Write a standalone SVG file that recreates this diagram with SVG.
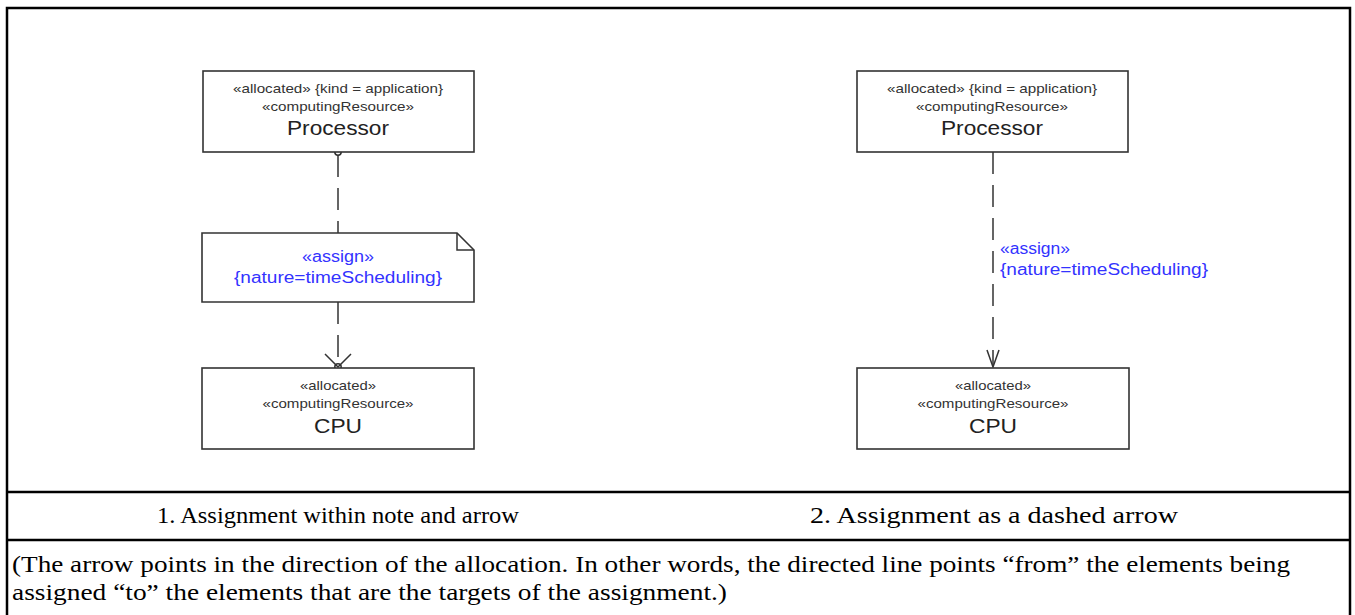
<svg xmlns="http://www.w3.org/2000/svg" width="1355" height="615" viewBox="0 0 1355 615">
<style>
.frame{fill:none;stroke:#000;stroke-width:2.5}
.box{fill:#fff;stroke:#333;stroke-width:1.6}
.st{font-family:"Liberation Sans",Arial,sans-serif;font-size:13.5px;fill:#333;text-anchor:middle}
.nm{font-family:"Liberation Sans",Arial,sans-serif;font-size:20px;fill:#222;text-anchor:middle}
.bl{font-family:"Liberation Sans",Arial,sans-serif;font-size:16px;fill:#3333ff}
.cap{font-family:"Liberation Serif","Times New Roman",serif;font-size:23.5px;fill:#000}
.dash{fill:none;stroke:#333;stroke-width:1.5;stroke-dasharray:22 11}
.ln{fill:none;stroke:#333;stroke-width:1.5}
</style>
<rect x="0" y="0" width="1355" height="615" fill="#fff"/>
<g id="frame">
<path class="frame" d="M7,616 V8 H1350 V616"/>
<line class="frame" x1="7" y1="492" x2="1350" y2="492"/>
<line class="frame" x1="7" y1="540" x2="1350" y2="540"/>
</g>
<g id="connectors">
<line class="dash" x1="338" y1="155" x2="338" y2="233"/>
<line class="dash" x1="338" y1="302" x2="338" y2="365"/>
<circle class="ln" cx="338" cy="152" r="3.2" fill="#fff"/>
<circle class="ln" cx="338" cy="367" r="3.2" fill="#fff"/>
<path class="ln" d="M325,354 L338,367 L351,354"/>
<line class="dash" x1="993" y1="152" x2="993" y2="366"/>
<path class="ln" d="M987,350 L993,367 L999,350"/>
<text class="bl" x="1000" y="254" textLength="70" lengthAdjust="spacingAndGlyphs">«assign»</text>
<text class="bl" x="1000" y="275" textLength="208" lengthAdjust="spacingAndGlyphs">{nature=timeScheduling}</text>
</g>
<g id="processor1">
<rect class="box" x="203" y="71" width="271" height="81"/>
<text class="st" x="338" y="93" textLength="210" lengthAdjust="spacingAndGlyphs">«allocated» {kind = application}</text>
<text class="st" x="338" y="111" textLength="152" lengthAdjust="spacingAndGlyphs">«computingResource»</text>
<text class="nm" x="338" y="135" textLength="102" lengthAdjust="spacingAndGlyphs">Processor</text>
</g>
<g id="note1">
<path class="box" d="M202,233 H457 L474,250 V302 H202 Z"/>
<path class="ln" d="M457,233 V250 H474"/>
<text class="bl" x="338" y="262" text-anchor="middle" textLength="72" lengthAdjust="spacingAndGlyphs">«assign»</text>
<text class="bl" x="338" y="283" text-anchor="middle" textLength="208" lengthAdjust="spacingAndGlyphs">{nature=timeScheduling}</text>
</g>
<g id="cpu1">
<rect class="box" x="202" y="368" width="272" height="81"/>
<text class="st" x="338" y="390" textLength="76" lengthAdjust="spacingAndGlyphs">«allocated»</text>
<text class="st" x="338" y="408" textLength="151" lengthAdjust="spacingAndGlyphs">«computingResource»</text>
<text class="nm" x="338" y="433" textLength="48" lengthAdjust="spacingAndGlyphs">CPU</text>
</g>
<g id="processor2">
<rect class="box" x="857" y="71" width="271" height="81"/>
<text class="st" x="992" y="93" textLength="210" lengthAdjust="spacingAndGlyphs">«allocated» {kind = application}</text>
<text class="st" x="992" y="111" textLength="152" lengthAdjust="spacingAndGlyphs">«computingResource»</text>
<text class="nm" x="992" y="135" textLength="102" lengthAdjust="spacingAndGlyphs">Processor</text>
</g>
<g id="cpu2">
<rect class="box" x="857" y="368" width="272" height="81"/>
<text class="st" x="993" y="390" textLength="76" lengthAdjust="spacingAndGlyphs">«allocated»</text>
<text class="st" x="993" y="408" textLength="151" lengthAdjust="spacingAndGlyphs">«computingResource»</text>
<text class="nm" x="993" y="433" textLength="48" lengthAdjust="spacingAndGlyphs">CPU</text>
</g>
<g id="captions">
<text class="cap" x="338" y="523" text-anchor="middle" textLength="362" lengthAdjust="spacingAndGlyphs">1. Assignment within note and arrow</text>
<text class="cap" x="994" y="523" text-anchor="middle" textLength="368" lengthAdjust="spacingAndGlyphs">2. Assignment as a dashed arrow</text>
<text class="cap" x="12" y="572" textLength="1278" lengthAdjust="spacingAndGlyphs">(The arrow points in the direction of the allocation. In other words, the directed line points “from” the elements being</text>
<text class="cap" x="12" y="600" textLength="715" lengthAdjust="spacingAndGlyphs">assigned “to” the elements that are the targets of the assignment.)</text>
</g>
</svg>
